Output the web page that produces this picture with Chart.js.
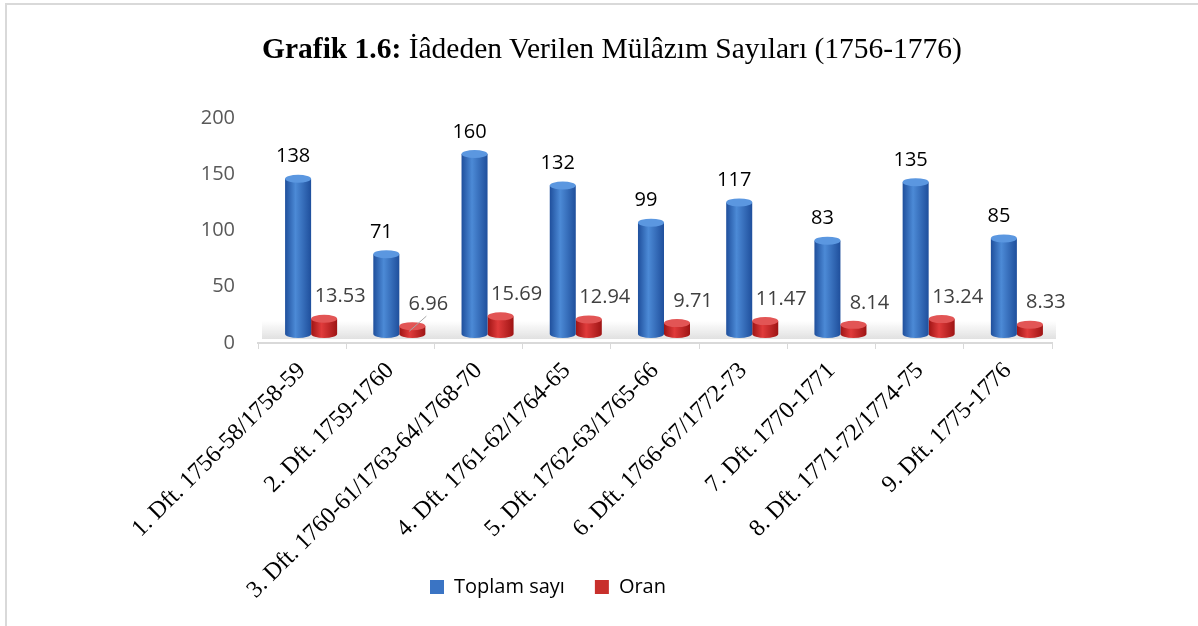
<!DOCTYPE html>
<html>
<head>
<meta charset="utf-8">
<script src="https://cdn.jsdelivr.net/npm/chart.js@4"></script>
<style>
  html, body { margin: 0; padding: 0; background: #fff; }
  #wrap { position: relative; width: 1198px; height: 626px; overflow: hidden; }
  #frame { position: absolute; left: 5px; top: 3px; width: 1300px; height: 700px;
           border-top: 2px solid #d9d9d9; border-left: 2px solid #d9d9d9; }
  #title { position: absolute; left: 0; top: 32px; width: 1224px; text-align: center;
           font-family: "Liberation Serif", serif; font-size: 29.5px; color: #000; }
  canvas { position: absolute; left: 0; top: 0; }
</style>
</head>
<body>
<div id="wrap">
  <div id="frame"></div>
  <canvas id="mulazimChart" width="1198" height="626"></canvas>
  <div id="title"><b>Grafik 1.6:</b> İâdeden Verilen Mülâzım Sayıları (1756-1776)</div>
</div>
<script>
const categories = [
    '1. Dft. 1756-58/1758-59',
    '2. Dft. 1759-1760',
    '3. Dft. 1760-61/1763-64/1768-70',
    '4. Dft. 1761-62/1764-65',
    '5. Dft. 1762-63/1765-66',
    '6. Dft. 1766-67/1772-73',
    '7. Dft. 1770-1771',
    '8. Dft. 1771-72/1774-75',
    '9. Dft. 1775-1776'
];
const toplamSayi = [138, 71, 160, 132, 99, 117, 83, 135, 85];
const oran = [13.53, 6.96, 15.69, 12.94, 9.71, 11.47, 8.14, 13.24, 8.33];
const yTicks = [0, 50, 100, 150, 200];

const CAT_PCT = 0.59;
const DEPTH = 9; // fake 3D depth shift

// horizontal gradient so each bar looks like a cylinder
function cylinderFill(dark, light) {
    return function (c) {
        const chart = c.chart;
        const x = chart.scales && chart.scales.x;
        if (!x || c.dataIndex === undefined) return dark;
        const center = x.getPixelForValue(c.dataIndex);
        const band = x.getPixelForValue(1) - x.getPixelForValue(0);
        const w = band * CAT_PCT / 2;
        const left = c.datasetIndex === 0 ? center - w : center;
        const g = chart.ctx.createLinearGradient(left, 0, left + w, 0);
        g.addColorStop(0, dark);
        g.addColorStop(0.4, light);
        g.addColorStop(1, dark);
        return g;
    };
}

const topColors = ['#5b97e0', '#e25555'];
const legendColors = ['#3a74c4', '#c8302c'];

const cylinders = {
    id: 'cylinders',
    afterLayout(chart) {
        // long rotated labels run past the axis box, don't clip them
        chart.scales.x.bottom = chart.height;
    },
    beforeDatasetsDraw(chart) {
        const { ctx, chartArea } = chart;
        // soft floor band
        const g = ctx.createLinearGradient(0, chartArea.bottom - 22, 0, chartArea.bottom - 4);
        g.addColorStop(0, 'rgba(200,200,200,0)');
        g.addColorStop(1, 'rgba(200,200,200,0.55)');
        ctx.save();
        ctx.fillStyle = g;
        ctx.fillRect(chartArea.left + 4, chartArea.bottom - 22, chartArea.width, 18);
        ctx.restore();
        ctx.save();
        ctx.translate(DEPTH, -DEPTH);
    },
    afterDatasetsDraw(chart) {
        const { ctx } = chart;
        chart.data.datasets.forEach((ds, di) => {
            chart.getDatasetMeta(di).data.forEach(el => {
                const rx = el.width / 2;
                ctx.fillStyle = el.options.backgroundColor;
                ctx.beginPath();
                ctx.ellipse(el.x, el.base, rx, 4, 0, 0, Math.PI);
                ctx.fill();
                ctx.fillStyle = topColors[di];
                ctx.beginPath();
                ctx.ellipse(el.x, el.y, rx, 4, 0, 0, Math.PI * 2);
                ctx.fill();
            });
        });
        ctx.restore();

        // value labels
        ctx.save();
        ctx.font = '20px "Open Sans", sans-serif';
        ctx.textAlign = 'center';
        ctx.textBaseline = 'middle';
        chart.getDatasetMeta(0).data.forEach((el, i) => {
            ctx.fillStyle = '#000';
            ctx.fillText(String(toplamSayi[i]), el.x + DEPTH - 5, el.y - DEPTH - 22);
        });
        chart.getDatasetMeta(1).data.forEach((el, i) => {
            const lx = el.x + DEPTH + 16, ly = el.y - DEPTH - 22;
            ctx.fillStyle = '#404040';
            ctx.fillText(oran[i].toFixed(2), lx, ly);
            if (i === 1) { // leader line for the small bar
                ctx.strokeStyle = '#a6a6a6';
                ctx.lineWidth = 1;
                ctx.beginPath();
                ctx.moveTo(lx - 2, ly + 12);
                ctx.lineTo(el.x + DEPTH - 3, el.y - DEPTH + 5);
                ctx.stroke();
            }
        });
        ctx.restore();
    }
};

new Chart(document.getElementById('mulazimChart').getContext('2d'), {
    type: 'bar',
    data: {
        labels: categories,
        datasets: [{
            label: 'Toplam sayı',
            data: toplamSayi,
            backgroundColor: cylinderFill('#1f4f9c', '#4c8ad6'),
            borderWidth: 0,
            barPercentage: 1,
            categoryPercentage: CAT_PCT
        }, {
            label: 'Oran',
            data: oran,
            backgroundColor: cylinderFill('#9e1414', '#e03b3b'),
            borderWidth: 0,
            barPercentage: 1,
            categoryPercentage: CAT_PCT
        }]
    },
    options: {
        responsive: false,
        animation: false,
        layout: { padding: { left: 44, right: 146, top: 118, bottom: 19 } },
        plugins: {
            title: { display: false },
            tooltip: { enabled: false },
            legend: {
                position: 'bottom',
                labels: {
                    boxWidth: 14,
                    boxHeight: 14,
                    padding: 30,
                    color: '#595959',
                    font: { family: '"Open Sans", sans-serif', size: 20 },
                    generateLabels: chart => chart.data.datasets.map((ds, i) => ({
                        text: ds.label,
                        fillStyle: legendColors[i],
                        strokeStyle: legendColors[i],
                        lineWidth: 0,
                        datasetIndex: i,
                        hidden: false
                    }))
                }
            }
        },
        scales: {
            x: {
                grid: { display: true, drawOnChartArea: false, color: '#d9d9d9', tickLength: 6, offset: true },
                border: { color: '#d9d9d9', width: 2 },
                ticks: {
                    maxRotation: 45,
                    minRotation: 45,
                    color: '#000',
                    padding: 8,
                    font: { family: '"Liberation Serif", serif', size: 24 }
                },
                afterFit: s => { s.height = 204; }
            },
            y: {
                min: 0,
                max: 200,
                afterBuildTicks: s => { s.ticks = yTicks.map(v => ({ value: v })); },
                ticks: {
                    color: '#595959',
                    padding: 23,
                    font: { family: '"Open Sans", sans-serif', size: 20 }
                },
                grid: { display: false, drawTicks: false },
                border: { display: false },
                afterFit: s => { s.width = 214; }
            }
        }
    },
    plugins: [cylinders]
});
</script>
</body>
</html>
